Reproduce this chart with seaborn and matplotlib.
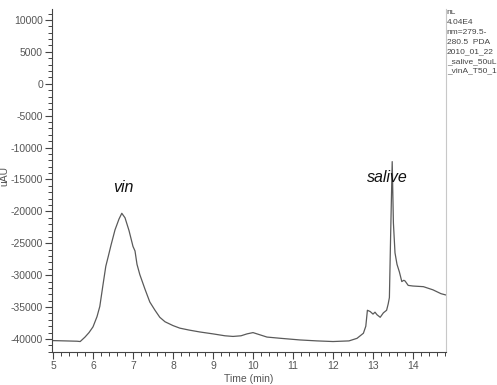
import matplotlib
matplotlib.use("Agg")
import matplotlib.pyplot as plt
from matplotlib.ticker import MultipleLocator
import seaborn as sns
import pandas as pd

# Chromatogram trace: retention time (min) and detector response (uAU)
time_min = [4.98, 5.3, 5.6, 5.68, 5.8, 5.9, 6.0, 6.1, 6.17, 6.25, 6.32, 6.38,
            6.45, 6.55, 6.65, 6.72, 6.8, 6.9, 7.0, 7.05, 7.1, 7.17, 7.3, 7.42,
            7.55, 7.67, 7.8, 8.0, 8.17, 8.4, 8.67, 9.0, 9.3, 9.5, 9.7, 9.85,
            10.0, 10.15, 10.35, 10.7, 11.17, 11.6, 12.0, 12.4, 12.6, 12.76,
            12.82, 12.86, 12.93, 13.0, 13.05, 13.1, 13.18, 13.26, 13.34, 13.38,
            13.41, 13.44, 13.48, 13.51, 13.55, 13.6, 13.66, 13.72, 13.77, 13.8,
            13.88, 14.0, 14.26, 14.5, 14.7, 14.82]
response_uau = [-40250, -40300, -40350, -40400, -39700, -39000, -38100, -36500,
                -34900, -31500, -28600, -27100, -25300, -22900, -21200, -20300,
                -21000, -23000, -25500, -26200, -28300, -29900, -32200, -34200,
                -35500, -36600, -37300, -37900, -38300, -38600, -38900, -39200,
                -39500, -39600, -39500, -39200, -39000, -39300, -39700, -39900,
                -40150, -40300, -40400, -40300, -39900, -39100, -38000, -35500,
                -35700, -36100, -35800, -36200, -36600, -35900, -35500, -34500,
                -33500, -24000, -12200, -21800, -26500, -28300, -29500, -31000,
                -30800, -30900, -31600, -31700, -31800, -32300, -32900, -33100]

# Peak labels
peak_names = ["vin", "salive"]
peak_label_time = [6.75, 13.37]
peak_label_resp = [-16300, -14700]

# Acquisition info shown beside the plot
info_lines = ["nL", "4.04E4", "nm=279.5-", "280.5  PDA", "2010_01_22",
              "_salive_50uL", "_vinA_T50_1"]

sns.set_style("white")
plt.rcParams["font.family"] = ["Liberation Sans", "DejaVu Sans"]
plt.rcParams["axes.unicode_minus"] = False

W, H = 497, 385
fig = plt.figure(figsize=(W / 100, H / 100), dpi=100)
fig.patch.set_facecolor("white")

ax_l, ax_r, ax_t, ax_b = 52, 446, 9, 352
ax = fig.add_axes([ax_l / W, 1 - ax_b / H, (ax_r - ax_l) / W, (ax_b - ax_t) / H])

df = pd.DataFrame({"Time (min)": time_min, "uAU": response_uau})
sns.lineplot(data=df, x="Time (min)", y="uAU", ax=ax, color="#5a5a5a",
             linewidth=0.9, estimator=None, sort=False)

ax.set_xlim(4.975, 14.825)
ax.set_ylim(-42040, 11720)
ax.xaxis.set_major_locator(MultipleLocator(1))
ax.xaxis.set_minor_locator(MultipleLocator(0.2))
ax.yaxis.set_major_locator(MultipleLocator(5000))
ax.yaxis.set_minor_locator(MultipleLocator(1000))

tick_col = "#555555"
ax.tick_params(axis="both", which="major", direction="out", length=5, width=0.8,
               color="#444444", labelsize=7.5, labelcolor=tick_col, pad=1.5)
ax.tick_params(axis="both", which="minor", direction="out", length=3, width=0.7,
               color="#444444")
ax.tick_params(axis="x", which="both", bottom=True)
ax.tick_params(axis="y", which="both", left=True)

for side in ("left", "bottom"):
    ax.spines[side].set_color("#444444")
    ax.spines[side].set_linewidth(0.8)
ax.spines["top"].set_visible(False)
ax.spines["right"].set_color("#c8c8c8")
ax.spines["right"].set_linewidth(0.8)

ax.set_xlabel("Time (min)", fontsize=7.5, color=tick_col, labelpad=2)
ax.set_ylabel("")
fig.text(4 / W, 1 - 176 / H, "uAU", rotation=90, fontsize=7.5, color=tick_col,
         ha="center", va="center")

for name, tx, ty in zip(peak_names, peak_label_time, peak_label_resp):
    ax.text(tx, ty, name, fontsize=11.5, style="italic", color="#111111",
            ha="center", va="center")

# Info panel to the right of the plot, clipped at its top edge
info_ax = fig.add_axes([(ax_r + 0.5) / W, 0, (W - ax_r - 0.5) / W, 1 - 10 / H])
info_ax.set_axis_off()
info_ax.set_xlim(0, W - ax_r - 0.5)
info_ax.set_ylim(H - 10, 0)
for i, line in enumerate(info_lines):
    info_ax.text(0.3, 3 + i * 9.7, line, fontsize=6.0, color="#444444",
                 ha="left", va="center", clip_on=True)

fig.savefig("out.png", dpi=100, facecolor="white")
